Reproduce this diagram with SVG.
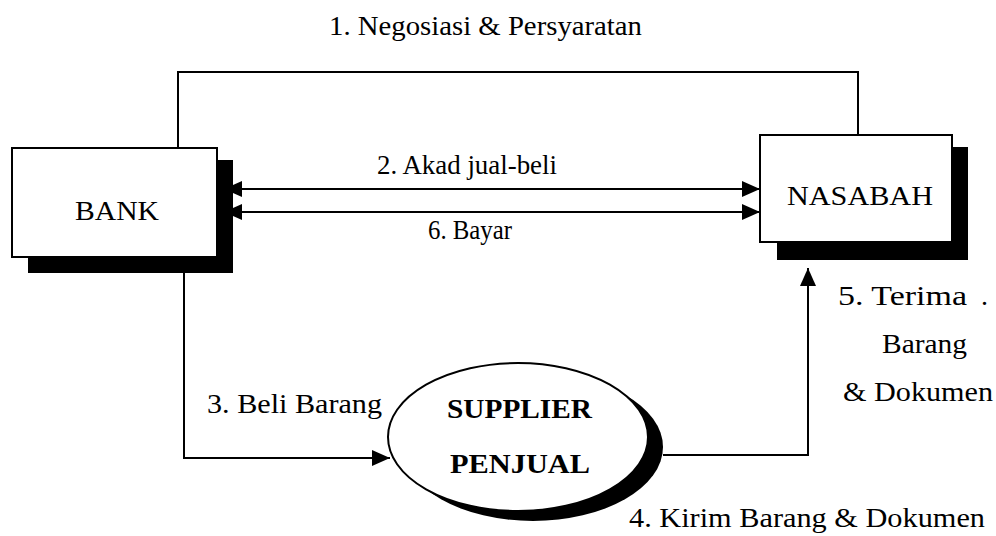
<svg xmlns="http://www.w3.org/2000/svg" width="996" height="536" viewBox="0 0 996 536" font-family="Liberation Serif, Times New Roman, serif" font-size="28">
<style>
.b{font-weight:bold}
.box{fill:#fff;stroke:#000;stroke-width:2}
.sh{fill:#000}
.ln{fill:none;stroke:#000;stroke-width:2}
</style>
<defs>
<marker id="ah" markerUnits="userSpaceOnUse" markerWidth="20" markerHeight="16" refX="18" refY="8" orient="auto-start-reverse">
<path d="M0,0 L18,8 L0,16 Z" fill="#000"/>
</marker>
</defs>
<rect width="996" height="536" fill="#fff"/>
<g id="connectors">
<path class="ln" d="M178,148 V72 H858 V135"/>
<line class="ln" x1="224" y1="189" x2="760" y2="189" marker-start="url(#ah)" marker-end="url(#ah)"/>
<line class="ln" x1="224" y1="212" x2="760" y2="212" marker-start="url(#ah)" marker-end="url(#ah)"/>
<path class="ln" d="M184,273 V458 H390" marker-end="url(#ah)"/>
<path class="ln" d="M663,455 H808 V268" marker-end="url(#ah)"/>
</g>
<g id="bank">
<rect class="sh" x="28" y="160" width="205" height="113"/>
<rect class="box" x="12" y="148" width="205" height="109"/>
<text x="75" y="220" textLength="84" lengthAdjust="spacingAndGlyphs">BANK</text>
</g>
<g id="nasabah">
<rect class="sh" x="777" y="147" width="191" height="113"/>
<rect class="box" x="760" y="135" width="192" height="107"/>
<text x="787" y="205" textLength="146" lengthAdjust="spacingAndGlyphs">NASABAH</text>
</g>
<g id="supplier">
<ellipse class="sh" cx="533" cy="447" rx="130" ry="74"/>
<ellipse class="box" cx="518" cy="437" rx="130" ry="74"/>
<text class="b" x="447" y="418" textLength="145" lengthAdjust="spacingAndGlyphs">SUPPLIER</text>
<text class="b" x="450" y="473" textLength="140" lengthAdjust="spacingAndGlyphs">PENJUAL</text>
</g>
<g id="labels">
<text x="329" y="35" textLength="313" lengthAdjust="spacingAndGlyphs">1. Negosiasi &amp; Persyaratan</text>
<text x="377" y="174" textLength="180" lengthAdjust="spacingAndGlyphs">2. Akad jual-beli</text>
<text x="428" y="239" textLength="84" lengthAdjust="spacingAndGlyphs">6. Bayar</text>
<text x="207" y="413" textLength="175" lengthAdjust="spacingAndGlyphs">3. Beli Barang</text>
<text x="838" y="305" textLength="129" lengthAdjust="spacingAndGlyphs">5.  Terima</text>
<text x="981" y="305">.</text>
<text x="882" y="353" textLength="85" lengthAdjust="spacingAndGlyphs">Barang</text>
<text x="843" y="401" textLength="150" lengthAdjust="spacingAndGlyphs">&amp; Dokumen</text>
<text x="629" y="527" textLength="356" lengthAdjust="spacingAndGlyphs">4. Kirim Barang &amp; Dokumen</text>
</g>
</svg>
